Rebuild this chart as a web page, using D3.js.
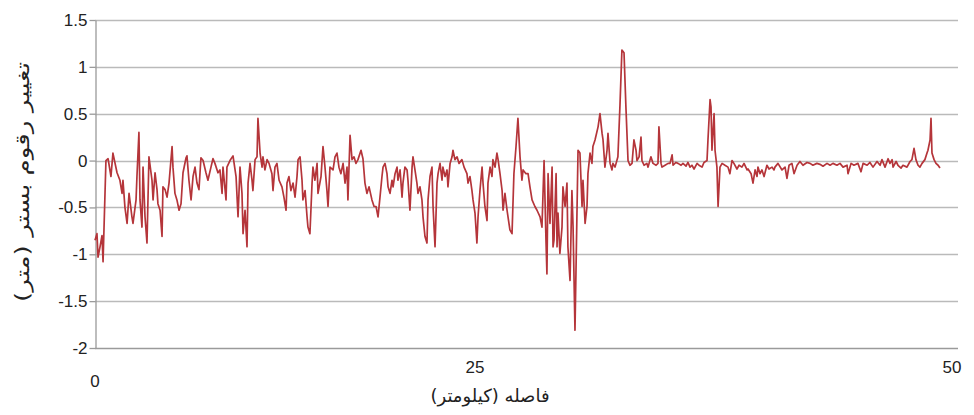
<!DOCTYPE html>
<html><head><meta charset="utf-8">
<script src="https://cdn.jsdelivr.net/npm/d3@7"></script>
<style>body{margin:0;background:#fff}svg{display:block}</style>
</head><body>
<svg id="c" width="974" height="415"></svg>
<script>
// ---- data ----
const distanceKm = [
  0.00,0.13,0.20,0.33,0.46,0.53,0.72,0.86,1.05,1.18,1.45,1.64,1.78,1.84,1.97,2.11,2.24,2.43,2.50,2.70,2.76,2.89,2.96,3.09,3.16,3.29,3.42,3.55,3.75,3.82,3.95,4.08,4.14,4.28,4.41,4.47,4.61,4.74,4.87,5.07,5.13,5.26,5.39,5.53,5.66,5.79,5.99,6.05,6.18,6.32,6.45,6.58,6.71,6.84,6.97,7.11,7.30,7.43,7.63,7.76,7.89,8.09,8.22,8.36,8.42,8.62,8.68,8.88,9.08,
  9.28,9.41,9.54,9.67,9.74,9.87,10.00,10.07,10.20,10.33,10.39,10.53,10.66,10.72,10.86,10.99,11.05,11.18,11.32,11.45,11.64,11.71,11.84,11.97,12.11,12.30,12.43,12.57,12.63,12.76,12.89,13.03,13.16,13.29,13.36,13.49,13.62,13.68,13.82,13.95,14.01,14.14,14.28,14.34,14.47,14.61,14.67,14.87,15.00,15.13,15.26,15.33,15.46,15.66,15.79,15.92,16.05,16.18,16.32,16.45,16.58,16.64,16.78,16.91,17.04,17.17,17.30,17.50,17.63,17.76,17.89,18.03,18.22,18.36,
  18.49,18.62,18.75,18.88,18.95,19.08,19.21,19.28,19.41,19.54,19.61,19.74,19.87,19.93,20.07,20.20,20.26,20.39,20.53,20.59,20.72,20.86,20.92,21.05,21.18,21.25,21.38,21.51,21.58,21.71,21.84,21.91,22.04,22.17,22.24,22.37,22.50,22.57,22.70,22.83,22.89,23.03,23.16,23.22,23.36,23.49,23.55,23.68,23.82,23.95,24.14,24.28,24.47,24.54,24.67,24.80,24.87,25.00,25.10,25.16,25.26,25.37,25.42,25.52,25.63,25.68,25.79,25.89,25.94,26.05,26.15,26.21,26.31,26.42,26.47,26.57,26.68,26.73,26.83,26.94,
  27.04,27.15,27.25,27.36,27.46,27.52,27.67,27.78,27.88,27.99,28.14,28.25,28.41,28.51,28.62,28.72,28.77,28.83,28.93,29.04,29.09,29.14,29.25,29.30,29.35,29.45,29.56,29.61,29.72,29.82,29.87,29.98,30.08,30.14,30.24,30.40,30.50,30.61,30.66,30.77,30.87,30.92,31.03,31.13,31.18,31.29,31.45,31.55,31.66,31.71,31.81,31.92,31.97,32.08,32.18,32.23,32.34,32.49,32.60,32.70,32.81,32.91,33.02,
  33.12,33.23,33.33,33.44,33.49,33.60,33.70,33.75,33.86,34.01,34.07,34.22,34.33,34.49,34.59,34.64,34.75,34.80,34.96,35.12,35.22,35.33,35.38,35.53,35.64,35.80,35.90,36.06,36.16,36.27,36.37,36.48,36.64,36.74,36.90,37.00,37.16,37.21,37.32,37.37,37.42,37.53,37.58,37.68,37.74,37.84,37.95,38.10,38.26,38.36,38.47,38.57,38.73,38.84,38.99,39.10,39.26,39.31,39.47,39.57,39.68,39.78,39.83,39.94,40.04,40.15,40.30,40.41,40.57,40.67,
  40.72,40.88,41.09,41.25,41.35,41.46,41.61,41.72,41.88,42.03,42.19,42.40,42.56,42.71,42.92,43.08,43.24,43.45,43.61,43.76,43.97,44.13,44.29,44.50,44.55,44.71,44.86,45.07,45.23,45.34,45.55,45.70,45.86,46.07,46.23,46.33,46.49,46.65,46.75,46.86,46.91,47.07,47.17,47.33,47.43,47.64,47.80,47.90,48.01,48.11,48.22,48.32,48.43,48.58,48.69,48.74,48.85,48.90,48.95,49.06,49.16,49.27,49.37
];
const bedChange = [
  -0.85,-0.78,-1.03,-0.92,-0.80,-1.08,0.00,0.02,-0.17,0.08,-0.13,-0.21,-0.35,-0.21,-0.50,-0.67,-0.35,-0.60,-0.67,-0.42,-0.17,0.30,-0.42,-0.71,-0.07,-0.60,-0.88,0.04,-0.21,-0.42,-0.13,-0.31,-0.46,-0.53,-0.81,-0.28,-0.31,-0.39,-0.24,0.15,-0.07,-0.35,-0.42,-0.53,-0.46,-0.13,0.03,0.05,-0.21,-0.42,-0.17,-0.07,-0.24,-0.31,0.03,0.00,-0.13,-0.21,-0.07,0.02,-0.03,-0.13,-0.10,-0.35,-0.07,-0.42,-0.07,0.00,0.05,
  -0.17,-0.60,-0.07,-0.35,-0.78,-0.53,-0.92,-0.24,-0.03,-0.21,-0.32,0.01,0.04,0.45,0.08,-0.07,0.04,-0.10,0.01,-0.03,-0.14,-0.32,-0.07,-0.03,-0.21,-0.28,-0.39,-0.53,-0.24,-0.17,-0.32,-0.24,-0.39,-0.17,0.01,0.04,-0.21,-0.42,-0.32,-0.60,-0.71,-0.78,-0.24,-0.07,-0.21,-0.03,-0.35,-0.17,0.15,-0.07,-0.32,-0.49,-0.07,-0.10,0.04,0.08,-0.07,-0.14,-0.03,-0.24,-0.07,-0.42,0.27,0.01,0.04,-0.03,0.01,0.11,0.02,-0.24,-0.35,-0.28,-0.42,-0.49,
  -0.49,-0.60,-0.39,-0.17,-0.07,-0.03,-0.14,-0.28,-0.35,-0.21,-0.28,-0.14,-0.07,-0.21,-0.10,-0.39,-0.24,-0.07,-0.10,-0.21,-0.53,-0.07,0.04,-0.10,-0.24,-0.35,-0.28,-0.42,-0.60,-0.81,-0.88,-0.42,-0.17,-0.07,-0.49,-0.92,-0.24,-0.14,-0.03,-0.21,-0.07,-0.17,-0.10,-0.28,-0.03,0.04,0.11,0.01,0.04,-0.03,0.01,-0.07,-0.14,-0.24,-0.17,-0.32,-0.42,-0.56,-0.88,-0.60,-0.32,-0.07,-0.24,-0.49,-0.64,-0.24,-0.07,-0.17,0.01,-0.07,0.08,0.01,-0.14,-0.32,-0.53,-0.35,-0.53,-0.60,-0.74,-0.78,
  -0.14,0.15,0.45,0.04,-0.21,-0.10,-0.14,-0.14,-0.28,-0.42,-0.49,-0.53,-0.60,-0.71,0.00,-0.85,-1.21,-0.14,-0.67,-0.07,-0.92,-0.85,-0.14,-0.92,-0.56,-0.99,-0.71,-0.28,-0.49,-0.24,-0.92,-1.28,-0.32,-0.71,-1.81,0.11,0.08,-0.49,-0.21,-0.67,-0.49,-0.14,0.08,-0.03,0.15,0.22,0.36,0.50,0.29,0.22,-0.07,0.11,0.29,-0.03,-0.10,-0.03,-0.07,0.04,0.60,1.18,1.15,0.57,0.00,
  -0.05,-0.03,0.22,0.11,0.00,0.04,0.25,0.00,-0.05,-0.03,-0.07,0.04,-0.03,-0.05,-0.03,0.36,-0.03,-0.07,-0.05,-0.03,-0.03,0.06,-0.05,-0.02,-0.03,-0.05,-0.03,-0.06,-0.02,-0.07,-0.05,-0.09,-0.03,-0.05,-0.07,-0.02,0.00,0.22,0.65,0.57,0.11,0.50,0.11,-0.07,-0.49,-0.07,-0.03,-0.05,-0.07,-0.14,0.00,-0.03,-0.09,-0.05,-0.07,-0.03,-0.10,-0.09,-0.14,-0.24,-0.10,-0.17,-0.07,-0.14,-0.10,-0.17,-0.05,-0.09,-0.07,-0.10,
  -0.07,-0.03,-0.10,-0.07,-0.19,-0.05,-0.03,-0.14,-0.05,-0.01,-0.05,-0.02,-0.03,-0.05,-0.03,-0.04,-0.06,-0.03,-0.05,-0.03,-0.05,-0.03,-0.07,-0.05,-0.14,-0.03,-0.05,-0.03,-0.12,-0.03,-0.05,-0.02,-0.07,-0.01,-0.05,0.01,-0.07,0.02,-0.03,0.01,-0.07,-0.01,-0.05,-0.08,-0.05,-0.07,-0.01,0.01,0.13,0.01,-0.05,-0.07,-0.03,0.01,0.08,0.11,0.22,0.45,0.08,0.01,-0.03,-0.05,-0.08
];
const yTicks = [-2, -1.5, -1, -0.5, 0, 0.5, 1, 1.5];
const xTickValues = [0, 25, 50];
const xTickLabels = ["0", "25", "50"];
const yTitle = "تغییر رقوم بستر (متر)";
const xTitle = "فاصله (کیلومتر)";

// ---- drawing ----
const svg = d3.select("#c");
const plotL = 95, plotR = 958, plotT = 20, plotB = 348;
const x = d3.scaleLinear().domain([0, 25, 50]).range([plotL, 475, 952]);
const y = d3.scaleLinear().domain([-2, 1.5]).range([plotB, plotT]);
const tickFont = "'Liberation Sans', Arial, sans-serif";

// horizontal gridlines
svg.append("g").selectAll("line").data(yTicks).join("line")
  .attr("x1", plotL).attr("x2", plotR)
  .attr("y1", d => Math.round(y(d)) + 0.5).attr("y2", d => Math.round(y(d)) + 0.5)
  .attr("stroke", d => d === -2 ? "#9a9a9a" : "#bababa").attr("stroke-width", 1.3);

// y axis
const yAxis = svg.append("g").attr("transform", `translate(${plotL + 0.5},0)`)
  .call(d3.axisLeft(y).tickValues(yTicks).tickSize(6).tickSizeOuter(0).tickPadding(2)
        .tickFormat(d => String(d)));
yAxis.select(".domain").attr("stroke", "#9a9a9a").attr("stroke-width", 1.3);
yAxis.selectAll(".tick line").attr("stroke", "#9a9a9a").attr("stroke-width", 1.3);
yAxis.selectAll(".tick text").attr("font-family", tickFont).attr("font-size", 17).attr("fill", "#222");

// x tick labels
svg.append("g").selectAll("text").data(xTickValues).join("text")
  .attr("x", d => x(d))
  .attr("y", (d, i) => i === 0 ? 387 : 373)
  .attr("text-anchor", "middle")
  .attr("font-family", tickFont).attr("font-size", 17).attr("fill", "#222")
  .text((d, i) => xTickLabels[i]);

// line
const pts = d3.zip(distanceKm, bedChange);
svg.append("path").datum(pts)
  .attr("fill", "none").attr("stroke", "#b5353a").attr("stroke-width", 1.7)
  .attr("stroke-linejoin", "round")
  .attr("d", d3.line().x(d => x(d[0])).y(d => y(d[1])));

// axis titles
svg.append("text").attr("x", 490).attr("y", 402).attr("text-anchor", "middle")
  .attr("font-family", "'DejaVu Sans', sans-serif").attr("font-size", 18).attr("fill", "#222")
  .attr("direction", "rtl").text(xTitle);
svg.append("text").attr("transform", "translate(29,182) rotate(-90)").attr("text-anchor", "middle")
  .attr("font-family", "'DejaVu Sans', sans-serif").attr("font-size", 19).attr("fill", "#222")
  .attr("direction", "rtl")
  .attr("textLength", 240).attr("lengthAdjust", "spacingAndGlyphs")
  .text(yTitle);
</script>
</body></html>
